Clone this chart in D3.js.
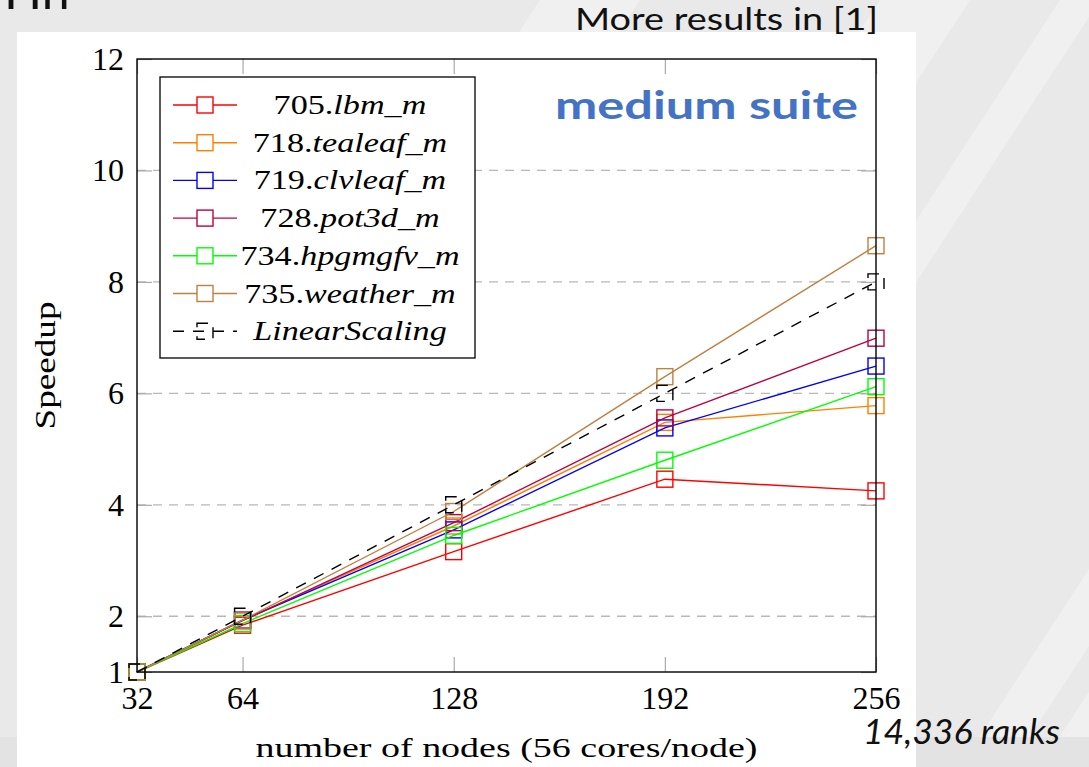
<!DOCTYPE html>
<html>
<head>
<meta charset="utf-8">
<script src="https://cdn.jsdelivr.net/npm/d3@7"></script>
<style>
  html, body { margin: 0; padding: 0; background: #ebebeb; }
  svg { display: block; }
</style>
</head>
<body>
<svg id="chart" width="1089" height="767"></svg>
<script>
// node counts on the x axis
const nodes = [32, 64, 128, 192, 256];

// speedup per benchmark
const lbm = [1, 1.84, 3.16, 4.46, 4.25];
const tealeaf = [1, 1.93, 3.62, 5.48, 5.78];
const clvleaf = [1, 1.93, 3.55, 5.38, 6.49];
const pot3d = [1, 1.92, 3.68, 5.56, 6.99];
const hpgmgfv = [1, 1.87, 3.45, 4.80, 6.12];
const weather = [1, 1.93, 3.88, 6.30, 8.65];
const linearScaling = [1, 2, 4, 6, 8];

const seriesNames = ['705.lbm_m', '718.tealeaf_m', '719.clvleaf_m', '728.pot3d_m',
  '734.hpgmgfv_m', '735.weather_m', 'LinearScaling'];
const seriesValues = [lbm, tealeaf, clvleaf, pot3d, hpgmgfv, weather, linearScaling];
const seriesColors = ['#ff0000', '#ff8000', '#0000ff', '#bf0040', '#00ff00', '#bf8040', '#000000'];

const yTicks = [1, 2, 4, 6, 8, 10, 12];
const gridValues = [2, 4, 6, 8, 10];

const svg = d3.select('#chart');
const W = 1089, H = 767;
const plotLeft = 137, plotRight = 876, plotTop = 59, plotBottom = 672;

// slide background with light streaks
svg.append('rect').attr('width', W).attr('height', H).attr('fill', '#e9e9e9');
const streaks = [[40, 140], [380, 470], [560, 600], [960, 1010], [1040, 1080]];
streaks.forEach(s => {
  svg.append('polygon')
      .attr('points', `${s[0]},${H} ${s[1]},${H} ${s[1] + 500},0 ${s[0] + 500},0`)
      .attr('fill', '#ffffff')
      .attr('opacity', 0.35);
});
svg.append('rect').attr('x', 0).attr('y', 737).attr('width', W).attr('height', 30)
    .attr('fill', '#e3e3e3');

// white panel behind the plot
svg.append('rect')
    .attr('x', 17).attr('y', 32).attr('width', 899).attr('height', H - 32)
    .attr('fill', '#ffffff');

// slide title, cut off at the top edge
svg.append('text')
    .attr('x', 4).attr('y', 9)
    .attr('font-family', 'Lato, sans-serif')
    .attr('font-size', 50)
    .attr('fill', '#111')
    .text('Hn');

svg.append('text')
    .attr('x', 878).attr('y', 30)
    .attr('text-anchor', 'end')
    .attr('font-family', 'Lato, sans-serif')
    .attr('font-size', 31)
    .attr('fill', '#111')
    .attr('textLength', 303)
    .attr('lengthAdjust', 'spacingAndGlyphs')
    .text('More results in [1]');

const x = d3.scaleLinear().domain([32, 256]).range([plotLeft, plotRight]);
const y = d3.scaleLinear().domain([1, 12]).range([plotBottom, plotTop]);

// dashed grid
svg.append('g')
  .selectAll('line')
  .data(gridValues)
  .join('line')
    .attr('x1', plotLeft).attr('x2', plotRight)
    .attr('y1', d => y(d)).attr('y2', d => y(d))
    .attr('stroke', '#b8b8b8')
    .attr('stroke-width', 1.3)
    .attr('stroke-dasharray', '9,7');

const serif = '"Liberation Serif", "DejaVu Serif", serif';

function styleAxis(g) {
  g.select('.domain').remove();
  g.selectAll('.tick line').attr('stroke', '#aaaaaa').attr('stroke-width', 1.2);
  g.selectAll('.tick text')
      .attr('font-family', serif)
      .attr('font-size', 32)
      .attr('fill', '#000');
}

svg.append('g')
    .attr('transform', `translate(${plotLeft},0)`)
    .call(d3.axisLeft(y).tickValues(yTicks).tickSize(-15).tickPadding(13).tickFormat(d3.format('d')))
    .call(styleAxis);
svg.append('g')
    .attr('transform', `translate(${plotRight},0)`)
    .call(d3.axisRight(y).tickValues(yTicks).tickSize(-15).tickFormat(''))
    .call(styleAxis);
svg.append('g')
    .attr('transform', `translate(0,${plotBottom})`)
    .call(d3.axisBottom(x).tickValues(nodes).tickSize(-15).tickPadding(14).tickFormat(d3.format('d')))
    .call(styleAxis);
svg.append('g')
    .attr('transform', `translate(0,${plotTop})`)
    .call(d3.axisTop(x).tickValues(nodes).tickSize(-15).tickFormat(''))
    .call(styleAxis);

// series
const line = d3.line()
    .x((d, i) => x(nodes[i]))
    .y(d => y(d));
const mk = 16;

seriesValues.forEach((vals, si) => {
  const dashed = seriesNames[si] === 'LinearScaling';
  const g = svg.append('g');
  g.append('path')
      .attr('d', line(vals))
      .attr('fill', 'none')
      .attr('stroke', seriesColors[si])
      .attr('stroke-width', 1.4)
      .attr('stroke-dasharray', dashed ? '11,9' : null);
  g.selectAll('rect')
    .data(vals)
    .join('rect')
      .attr('x', (d, i) => x(nodes[i]) - mk / 2)
      .attr('y', d => y(d) - mk / 2)
      .attr('width', mk).attr('height', mk)
      .attr('fill', 'none')
      .attr('stroke', seriesColors[si])
      .attr('stroke-width', 1.4)
      .attr('stroke-dasharray', dashed ? '11,9' : null);
});

// frame
svg.append('rect')
    .attr('x', plotLeft).attr('y', plotTop)
    .attr('width', plotRight - plotLeft).attr('height', plotBottom - plotTop)
    .attr('fill', 'none')
    .attr('stroke', '#000')
    .attr('stroke-width', 1.4);

// legend
const lg = svg.append('g');
lg.append('rect')
    .attr('x', 160).attr('y', 77).attr('width', 315).attr('height', 281)
    .attr('fill', '#fff')
    .attr('stroke', '#000')
    .attr('stroke-width', 1.3);
const rowY = i => 105 + i * 37.7;
seriesNames.forEach((name, i) => {
  const dashed = name === 'LinearScaling';
  const cy = rowY(i);
  lg.append('line')
      .attr('x1', 173).attr('x2', 237)
      .attr('y1', cy).attr('y2', cy)
      .attr('stroke', seriesColors[i])
      .attr('stroke-width', 1.4)
      .attr('stroke-dasharray', dashed ? '11,9' : null);
  lg.append('rect')
      .attr('x', 205 - mk / 2).attr('y', cy - mk / 2)
      .attr('width', mk).attr('height', mk)
      .attr('fill', dashed ? 'none' : '#fff')
      .attr('stroke', seriesColors[i])
      .attr('stroke-width', 1.4)
      .attr('stroke-dasharray', dashed ? '11,9' : null);
  const m = name.match(/^(\d+\.)?(.*)$/);
  const t = lg.append('text')
      .attr('x', 350).attr('y', cy + 9)
      .attr('text-anchor', 'middle')
      .attr('font-family', serif)
      .attr('font-size', 28)
      .attr('fill', '#000');
  if (m[1]) t.append('tspan').text(m[1]);
  t.append('tspan').attr('font-style', 'italic').text(m[2]);
  // math italic in the original is wider than the fallback serif
  const w = t.node().getComputedTextLength();
  t.attr('textLength', w * 1.22).attr('lengthAdjust', 'spacingAndGlyphs');
});

svg.append('text')
    .attr('x', 858).attr('y', 119)
    .attr('text-anchor', 'end')
    .attr('font-family', 'Lato, sans-serif')
    .attr('font-weight', 'bold')
    .attr('font-size', 39)
    .attr('fill', '#4472c4')
    .attr('textLength', 303)
    .attr('lengthAdjust', 'spacingAndGlyphs')
    .text('medium suite');

// axis titles
svg.append('text')
    .attr('x', (plotLeft + plotRight) / 2).attr('y', 757)
    .attr('text-anchor', 'middle')
    .attr('font-family', serif)
    .attr('font-size', 28)
    .attr('textLength', 502)
    .attr('lengthAdjust', 'spacingAndGlyphs')
    .text('number of nodes (56 cores/node)');

svg.append('text')
    .attr('transform', `translate(55,${(plotTop + plotBottom) / 2}) rotate(-90)`)
    .attr('text-anchor', 'middle')
    .attr('font-family', serif)
    .attr('font-size', 29)
    .attr('textLength', 128)
    .attr('lengthAdjust', 'spacingAndGlyphs')
    .text('Speedup');

svg.append('text')
    .attr('x', 863).attr('y', 744)
    .attr('font-family', 'Lato, sans-serif')
    .attr('font-style', 'italic')
    .attr('font-size', 34)
    .attr('fill', '#111')
    .attr('textLength', 197)
    .attr('lengthAdjust', 'spacingAndGlyphs')
    .text('14,336 ranks');
</script>
</body>
</html>
